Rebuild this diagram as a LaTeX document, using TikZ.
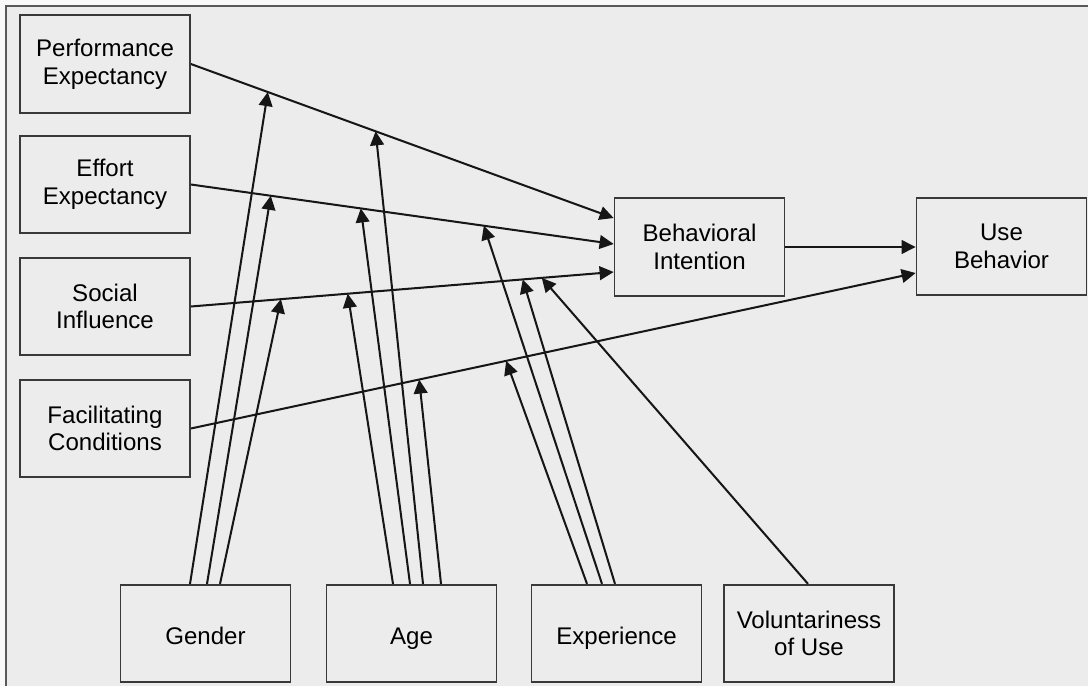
\documentclass[tikz,border=0pt]{standalone}
\usepackage{fontspec}
\setmainfont{Liberation Sans}
\usetikzlibrary{arrows.meta,calc}
\definecolor{paper}{RGB}{236,236,236}
\definecolor{ink}{RGB}{22,22,22}
\tikzset{
    box/.style={draw=ink!85, line width=1pt, minimum width=3.4cm, minimum height=1.95cm,
        align=center, font=\fontsize{13.7}{15.8}\selectfont},
    oneline/.style={text height=15pt, text depth=2pt},
    arr/.style={draw=ink, line width=1.15pt, -{Triangle[length=8pt,width=7.8pt]}}
}
\begin{document}
\begin{tikzpicture}[x=0.02cm, y=-0.02cm]
    \fill[gray!5] (0,0) rectangle (1088,686);
    \fill[paper] (6,6) rectangle (1088,686);
    \useasboundingbox (0,0) rectangle (1088,686);
    \draw[gray!70!black, line width=0.8pt] (6,686) -- (6,6) -- (1088,6);

    \node[box] (pe) at (105,64) {Performance\\Expectancy};
    \node[box] (ee) at (105,184.5) {Effort\\Expectancy};
    \node[box] (si) at (105,306.5) {Social\\Influence};
    \node[box] (fc) at (105,428.5) {Facilitating\\Conditions};
    \node[box] (bi) at (699.5,247) {Behavioral\\Intention};
    \node[box] (ub) at (1001.5,246.5) {Use\\Behavior};
    \node[box, oneline] (gd) at (205.5,633.5) {Gender};
    \node[box, oneline] (ag) at (411.5,633.5) {Age};
    \node[box, oneline] (ex) at (616.5,633.5) {Experience};
    \node[box] (vu) at (809,633.5) {Voluntariness\\of Use};

    \coordinate (pe2) at ($(bi.west)+(0,-29)$);
    \coordinate (ee2) at ($(bi.west)+(0,-3)$);
    \coordinate (si2) at ($(bi.west)+(0,25)$);
    \coordinate (fc2) at ($(ub.west)+(0,26.5)$);

    \draw[arr] (pe.east) -- (pe2);
    \draw[arr] (ee.east) -- (ee2);
    \draw[arr] (si.east) -- (si2);
    \draw[arr] (fc.east) -- (fc2);
    \draw[arr] (bi.east) -- (bi.east -| ub.west);

    \foreach \src/\dx/\tgt/\t in {gd/-15.5/pe/0.182, gd/1.5/ee/0.189, gd/14.5/si/0.213,
            ag/-18.5/si/0.371, ag/-1.5/ee/0.402, ag/11.5/pe/0.437, ag/29.5/fc/0.315,
            ex/-29.5/fc/0.435, ex/-14.5/ee/0.693, ex/-1.5/si/0.785, vu/-1/si/0.830}
        \draw[arr] ($(\src.north)+(\dx,0)$) -- ($(\tgt.east)!\t!(\tgt2)$);
\end{tikzpicture}
\end{document}
